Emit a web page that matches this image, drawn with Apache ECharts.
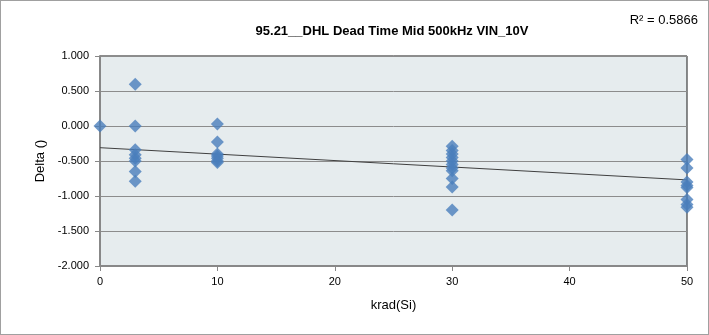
<!DOCTYPE html>
<html>
<head>
<meta charset="utf-8">
<script src="https://cdn.jsdelivr.net/npm/echarts@6/dist/echarts.min.js"></script>
<style>
  html, body { margin: 0; padding: 0; background: #fff; }
  #chart { width: 709px; height: 335px; box-sizing: border-box; border: 1px solid #a0a0a0; }
</style>
</head>
<body>
<div id="chart"></div>
<script>
// krad(Si) dose and the measured delta per unit
const doseX = [0, 3, 3, 3, 3, 3, 3, 3, 3,
  10, 10, 10, 10, 10, 10, 10,
  30, 30, 30, 30, 30, 30, 30, 30, 30, 30, 30,
  50, 50, 50, 50, 50, 50, 50, 50]
const deltaY = [0.0, 0.595, 0.0, -0.34, -0.41, -0.46, -0.5, -0.65, -0.79,
  0.03, -0.23, -0.4, -0.43, -0.46, -0.5, -0.52,
  -0.29, -0.35, -0.4, -0.45, -0.5, -0.55, -0.6, -0.64, -0.75, -0.87, -1.2,
  -0.48, -0.6, -0.8, -0.85, -0.88, -1.05, -1.12, -1.16]

// linear trendline end points
const trendX = [0, 50]
const trendY = [-0.31, -0.77]

const yTicks = [-2, -1.5, -1, -0.5, 0, 0.5, 1]

const chart = echarts.init(document.getElementById('chart'))
const font = 'Liberation Sans, Arial, sans-serif'

chart.setOption({
  animation: false,
  title: {
    text: '95.21__DHL Dead Time Mid 500kHz VIN_10V',
    left: 386,
    top: 19,
    textAlign: 'center',
    textStyle: { fontFamily: font, fontSize: 13, fontWeight: 'bold', color: '#000' }
  },
  graphic: [{
    type: 'text',
    right: 10,
    top: 13,
    style: { text: 'R² = 0.5866', font: '13px ' + font, fill: '#000' }
  }],
  grid: {
    left: 99, right: 21, top: 55, bottom: 68,
    show: true,
    backgroundColor: '#e6ecee',
    borderColor: '#1a1a1a',
    borderWidth: 1
  },
  xAxis: {
    type: 'value',
    min: 0, max: 50, interval: 10,
    name: 'krad(Si)',
    nameLocation: 'middle',
    nameGap: 33,
    nameTextStyle: { fontFamily: font, fontSize: 13, color: '#000' },
    axisLine: { show: true, onZero: false, lineStyle: { color: '#888', width: 2 } },
    axisTick: { show: true, length: 5, lineStyle: { color: '#888' } },
    axisLabel: { fontFamily: font, fontSize: 11, color: '#000', margin: 10 },
    splitLine: { show: false }
  },
  yAxis: {
    type: 'value',
    min: -2, max: 1, interval: 0.5,
    name: 'Delta ()',
    nameLocation: 'middle',
    nameGap: 52,
    nameTextStyle: { fontFamily: font, fontSize: 13, color: '#000' },
    axisLine: { show: true, lineStyle: { color: '#888', width: 2 } },
    axisTick: { show: true, length: 5, lineStyle: { color: '#888' } },
    axisLabel: {
      fontFamily: font, fontSize: 11, color: '#000', margin: 11,
      formatter: v => yTicks.includes(v) ? v.toFixed(3) : ''
    },
    splitLine: { show: true, lineStyle: { color: '#8c8c8c', width: 1 } }
  },
  series: [
    {
      type: 'line',
      data: trendX.map((x, i) => [x, trendY[i]]),
      symbol: 'none',
      lineStyle: { color: '#404040', width: 1 },
      z: 2
    },
    {
      type: 'scatter',
      data: doseX.map((x, i) => [x, deltaY[i]]),
      symbol: 'diamond',
      symbolSize: 13,
      itemStyle: { color: '#4a7ebb' },
      z: 3
    }
  ]
})
</script>
</body>
</html>
